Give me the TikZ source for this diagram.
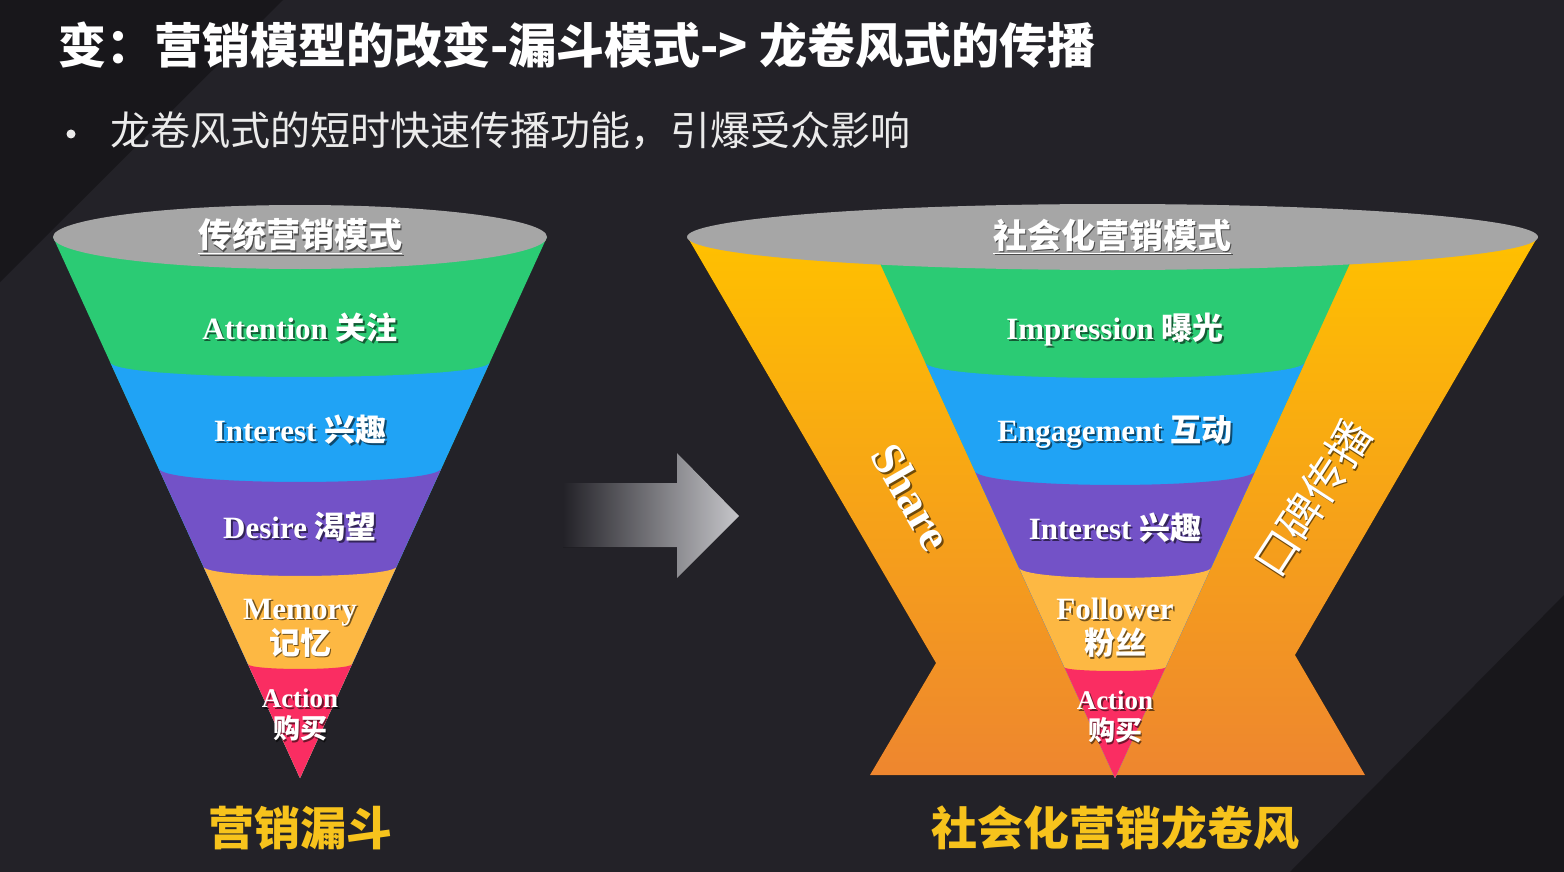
\documentclass[tikz,border=0pt]{standalone}
\usepackage{fontspec}
\usepackage{tikz}
\setmainfont{Liberation Serif}
\newfontfamily\cjk{Noto Sans CJK SC}

\definecolor{bgmain}{HTML}{232228}
\definecolor{bgdark}{HTML}{18171B}
\definecolor{cgreen}{HTML}{2BCB74}
\definecolor{cblue}{HTML}{20A3F5}
\definecolor{cpurple}{HTML}{7352C7}
\definecolor{cyellow}{HTML}{FDB843}
\definecolor{cred}{HTML}{FA2D62}
\definecolor{cgray}{HTML}{A6A6A6}
\definecolor{cgold}{HTML}{FFC000}
\definecolor{corange}{HTML}{EE862F}
\definecolor{ctitle}{HTML}{F7C31C}
\definecolor{carrow}{HTML}{C6C6CA}

% band below a curved edge: centre x, edge y, half width, dip, colour
\newcommand{\band}[5]{%
  \fill[#5] (#1-#3,#2) .. controls (#1-#3,#2+1.33*#4) and (#1+#3,#2+1.33*#4) .. (#1+#3,#2)
    -- (#1+#3+300,#2) -- (#1+#3+300,800) -- (#1-#3-300,800) -- (#1-#3-300,#2) -- cycle;}
% white label with a soft shadow
\newcommand{\lbl}[4][]{%
  \node[lblshadow,#1] at (#3) {#4};
  \node[lbl,#1] (#2) at (#3) {#4};}

\begin{document}
\begin{tikzpicture}[x=1pt,y=-1pt,
  lbl/.style={text=white,inner sep=0pt,align=center,font=\fontsize{31}{35}\selectfont\bfseries},
  lblshadow/.style={lbl,text=black,opacity=0.55,xshift=1.8pt,yshift=-1.8pt},
  small/.style={font=\fontsize{27}{31}\selectfont\bfseries},
  bigname/.style={text=ctitle,inner sep=0pt,font=\cjk\bfseries\fontsize{46}{50}\selectfont}]
\useasboundingbox (0,0) rectangle (1564,872);
% background:
\fill[bgmain] (0,0) rectangle (1564,872);
\fill[bgdark] (0,0) -- (283,0) -- (0,282) -- cycle;
\fill[bgdark] (1564,595) -- (1564,872) -- (1290,872) -- cycle;
% title:
\node[anchor=west,inner sep=0pt,text=white,font=\cjk\bfseries\fontsize{48}{52}\selectfont] (title) at (58,45) {变：营销模型的改变-漏斗模式-> 龙卷风式的传播};
\node[circle,fill=white!92!black,inner sep=0pt,minimum size=9pt] (bullet) at (71,134) {};
\node[anchor=west,inner sep=0pt,text=white!92!black,font=\cjk\fontsize{40}{44}\selectfont] (subtitle) at (110,131) {龙卷风式的短时快速传播功能，引爆受众影响};
% left funnel:
\begin{scope}
\clip (53,237) -- (547,237) -- (300,778) -- cycle;
\fill[cgreen] (0,200) rectangle (600,800);
\band{300}{362}{190}{15}{cblue}
\band{300}{468}{141.5}{14}{cpurple}
\band{300}{566}{97}{10}{cyellow}
\band{300}{664}{52}{5}{cred}
\end{scope}
\fill[cgray] (300,237) ellipse [x radius=247, y radius=32];
\lbl{headl}{300,236}{\cjk\fontsize{34}{38}\selectfont\underline{传统营销模式}}
\lbl{attn}{300,328}{Attention {\cjk 关注}}
\lbl{intl}{300,430}{Interest {\cjk 兴趣}}
\lbl{desire}{300,527}{Desire {\cjk 渴望}}
\lbl{memory}{300,628}{Memory\\{\cjk 记忆}}
\lbl[small]{actl}{300,715}{Action\\{\cjk 购买}}
\node[bigname] (funnel) at (300,828) {营销漏斗};
% arrow:
\fill[left color=bgmain,right color=carrow] (563,483) -- (677,483) -- (677,453) -- (739,516)
  -- (677,578) -- (677,547) -- (563,547) -- cycle;
% right tornado:
\fill[top color=cgold,bottom color=corange] (688,238) -- (936,663) -- (870,775) -- (1365,775)
  -- (1295,655) -- (1537,238) -- cycle;
\begin{scope}
\clip (868,237) -- (1362,237) -- (1115,778) -- cycle;
\fill[cgreen] (800,200) rectangle (1400,800);
\band{1115}{362}{190}{16}{cblue}
\band{1115}{470}{141}{15}{cpurple}
\band{1115}{567}{96.5}{11}{cyellow}
\band{1115}{667}{51}{4}{cred}
\end{scope}
\fill[cgray] (1112.5,237) ellipse [x radius=425.5, y radius=33];
\lbl{headr}{1112,236}{\cjk\fontsize{34}{38}\selectfont\underline{社会化营销模式}}
\lbl{impr}{1115,330}{Impression {\cjk 曝光}}
\lbl{engage}{1115,432}{Engagement {\cjk 互动}}
\lbl{intr}{1115,528}{Interest {\cjk 兴趣}}
\lbl{follow}{1115,628}{Follower\\{\cjk 粉丝}}
\lbl[small]{actr}{1115,717}{Action\\{\cjk 购买}}
\lbl[font=\fontsize{46}{50}\selectfont\bfseries,rotate=-60]{share}{912,497}{Share}
\lbl[font=\cjk\fontsize{44}{48}\selectfont,rotate=57]{wom}{1312,498}{口碑传播}
\node[bigname] (tornado) at (1115,828) {社会化营销龙卷风};
\end{tikzpicture}
\end{document}
